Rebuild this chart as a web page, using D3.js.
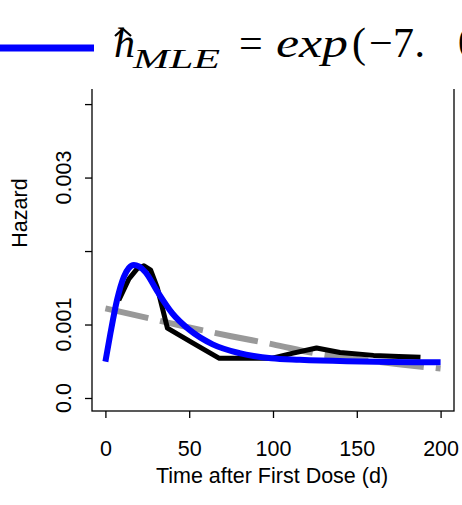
<!DOCTYPE html>
<html>
<head>
<meta charset="utf-8">
<script src="https://cdn.jsdelivr.net/npm/d3@7"></script>
<style>
body { margin: 0; background: #fff; }
svg { display: block; }
.tick text { font-family: "Liberation Sans", Arial, sans-serif; font-size: 21.5px; }
.label { font-family: "Liberation Sans", Arial, sans-serif; font-size: 21.5px; }
.math { font-family: "Liberation Serif", "Times New Roman", serif; }
</style>
</head>
<body>
<svg width="462" height="505"></svg>
<script>
// empirical hazard (black)
const empTime = [8, 14, 19, 23, 27, 31, 37, 52, 68, 99, 112, 126, 140, 160, 175, 188];
const empHaz = [0.00133, 0.00162, 0.00176, 0.00180, 0.00174, 0.00150, 0.00095, 0.00075, 0.00054, 0.00054, 0.00061, 0.00068, 0.00062, 0.00058, 0.000565, 0.000554];

// MLE fit (blue)
const mleTime = [0, 3, 7, 11, 14, 17, 20, 24, 31, 40, 50, 64, 80, 99, 116, 144, 170, 200];
const mleHaz = [0.000495, 0.00088, 0.00134, 0.00165, 0.00177, 0.00181, 0.00179, 0.00171, 0.00145, 0.00115, 0.00093, 0.00073, 0.00061, 0.00054, 0.00052, 0.00050, 0.00049, 0.000485];

// reference fit (gray dashed)
const refTime = [0, 25, 50, 75, 100, 125, 150, 175, 200];
const refHaz = [0.00122, 0.00109, 0.00096, 0.00084, 0.00073, 0.00061, 0.00053, 0.00046, 0.00040];

const xTicks = [0, 50, 100, 150, 200];
const yTicks = [0, 0.001, 0.002, 0.003, 0.004];
const yLabels = ['0.0', '0.001', '', '0.003', ''];

const svg = d3.select('svg');

const x = d3.scaleLinear().domain([-8, 208]).range([92, 454]);
const y = d3.scaleLinear().domain([-0.000177, 0.0046]).range([411, 60]);

const line = d3.line()
    .x(d => x(d[0]))
    .y(d => y(d[1]));

const zip = (a, b) => a.map((v, i) => [v, b[i]]);

// gray dashed
svg.append('path')
    .datum(zip(refTime, refHaz))
    .attr('fill', 'none')
    .attr('stroke', '#999999')
    .attr('stroke-width', 6)
    .attr('stroke-dasharray', '44,12')
    .attr('d', line.curve(d3.curveMonotoneX));

// black empirical
svg.append('path')
    .datum(zip(empTime, empHaz))
    .attr('fill', 'none')
    .attr('stroke', '#000')
    .attr('stroke-width', 5)
    .attr('stroke-linejoin', 'round')
    .attr('d', line.curve(d3.curveLinear));

// blue MLE
svg.append('path')
    .datum(zip(mleTime, mleHaz))
    .attr('fill', 'none')
    .attr('stroke', '#0000ff')
    .attr('stroke-width', 6)
    .attr('d', line.curve(d3.curveMonotoneX));

// box
svg.append('rect')
    .attr('x', x.range()[0])
    .attr('y', y.range()[1])
    .attr('width', x.range()[1] - x.range()[0])
    .attr('height', y.range()[0] - y.range()[1])
    .attr('fill', 'none')
    .attr('stroke', '#000')
    .attr('stroke-width', 1.3);

// axes
const xAxis = svg.append('g')
    .attr('transform', `translate(0, ${y.range()[0]})`)
    .call(d3.axisBottom(x).tickValues(xTicks).tickSize(7).tickPadding(22.7).tickSizeOuter(0));
xAxis.select('.domain').remove();
xAxis.selectAll('line').attr('stroke-width', 1.3);

const yAxis = svg.append('g')
    .attr('transform', `translate(${x.range()[0]}, 0)`)
    .call(d3.axisLeft(y).tickValues(yTicks).tickSize(7).tickFormat(''));
yAxis.select('.domain').remove();
yAxis.selectAll('line').attr('stroke-width', 1.3);

svg.selectAll('.ylab')
    .data(yTicks)
    .enter()
    .append('text')
    .attr('class', 'label')
    .attr('text-anchor', 'middle')
    .attr('transform', d => `translate(71, ${y(d)}) rotate(-90)`)
    .text((d, i) => yLabels[i]);

svg.append('text')
    .attr('class', 'label')
    .attr('text-anchor', 'middle')
    .attr('transform', 'translate(27, 213) rotate(-90)')
    .text('Hazard');

svg.append('text')
    .attr('class', 'label')
    .attr('text-anchor', 'middle')
    .attr('x', 272)
    .attr('y', 483)
    .text('Time after First Dose (d)');

// legend (white background covers top of box)
svg.append('rect')
    .attr('x', 0).attr('y', 0)
    .attr('width', 462).attr('height', 89)
    .attr('fill', '#fff');

svg.append('line')
    .attr('x1', 0).attr('x2', 94)
    .attr('y1', 48).attr('y2', 48)
    .attr('stroke', '#0000ff')
    .attr('stroke-width', 7);

const lg = svg.append('g').attr('class', 'math');
lg.append('text').attr('x', 114).attr('y', 57).attr('font-size', 42).attr('font-style', 'italic').text('h');
// hat over h
lg.append('path')
    .attr('d', 'M115,36 L123,29 L131,36')
    .attr('fill', 'none')
    .attr('stroke', '#000')
    .attr('stroke-width', 2.2);
lg.append('text').attr('x', 133).attr('y', 68).attr('font-size', 27).attr('font-style', 'italic')
    .attr('textLength', 87).attr('lengthAdjust', 'spacingAndGlyphs').text('MLE');
lg.append('text').attr('x', 239).attr('y', 57).attr('font-size', 42).text('=');
lg.append('text').attr('x', 276).attr('y', 57).attr('font-size', 42).attr('font-style', 'italic')
    .attr('textLength', 72).attr('lengthAdjust', 'spacingAndGlyphs').text('exp');
lg.append('text').attr('x', 352).attr('y', 57).attr('font-size', 42).text('(');
lg.append('text').attr('x', 369).attr('y', 57).attr('font-size', 42)
    .attr('textLength', 56).attr('lengthAdjust', 'spacing').text('\u22127.');
lg.append('text').attr('x', 458).attr('y', 57).attr('font-size', 42).text('0');
</script>
</body>
</html>
